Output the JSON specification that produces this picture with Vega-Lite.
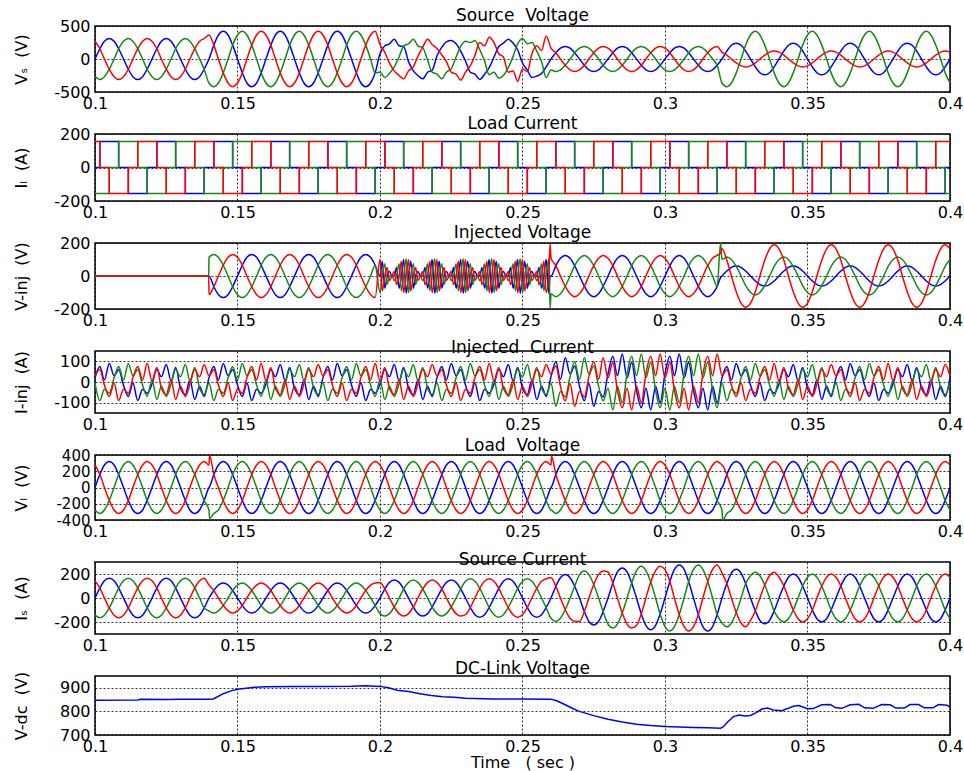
{
"$schema": "https://vega.github.io/schema/vega-lite/v6.json",
"padding": {"left": 12, "top": 6, "right": 10, "bottom": 0},
"spacing": 42,
"bounds": "flush",
"config": {
  "font": "DejaVu Sans",
  "locale": {"number": {"decimal": ".", "thousands": ",", "grouping": [3], "currency": ["$", ""], "minus": "-"}},
  "view": {"stroke": "#000", "strokeWidth": 1.5},
  "axis": {"labelFont": "DejaVu Sans", "labelFontSize": 16, "labelColor": "#000", "titleFont": "DejaVu Sans", "titleFontSize": 16, "titleFontWeight": "normal", "titleColor": "#000", "grid": true, "gridColor": "#000", "gridDash": [2, 2], "gridOpacity": 1, "gridWidth": 0.8, "domain": false, "ticks": false, "labelPadding": 5, "labelFlush": false, "labelOverlap": false, "labelBound": false},
  "axisX": {"format": "~g", "labelPadding": 3},
  "axisY": {"titleX": -66},
  "title": {"font": "DejaVu Sans", "fontSize": 17, "fontWeight": "normal", "color": "#000", "offset": -7, "anchor": "middle"},
  "line": {"strokeWidth": 1.5, "clip": true}
},
"datasets": {
"vs": [
{"t":0.1,"b":0,"g":-268,"r":268},{"t":0.1017,"b":155,"g":-310,"r":155},{"t":0.1033,"b":268,"g":-268,"r":0},{"t":0.105,"b":310,"g":-155,"r":-155},{"t":0.1067,"b":268,"g":0,"r":-268},{"t":0.1083,"b":155,"g":155,"r":-310},{"t":0.11,"b":0,"g":268,"r":-268},{"t":0.1117,"b":-155,"g":310,"r":-155},{"t":0.1133,"b":-268,"g":268,"r":0},{"t":0.115,"b":-310,"g":155,"r":155},{"t":0.1167,"b":-268,"g":0,"r":268},{"t":0.1183,"b":-155,"g":-155,"r":310},
{"t":0.12,"b":0,"g":-268,"r":268},{"t":0.1217,"b":155,"g":-310,"r":155},{"t":0.1233,"b":268,"g":-268,"r":0},{"t":0.125,"b":310,"g":-155,"r":-155},{"t":0.1267,"b":268,"g":0,"r":-268},{"t":0.1283,"b":155,"g":155,"r":-310},{"t":0.13,"b":0,"g":268,"r":-268},{"t":0.1317,"b":-155,"g":310,"r":-155},{"t":0.1333,"b":-268,"g":268,"r":0},{"t":0.135,"b":-310,"g":155,"r":155},{"t":0.1367,"b":-268,"g":0,"r":268},{"t":0.1383,"b":-155,"g":-155,"r":310},
{"t":0.14,"b":0,"g":-364,"r":364},{"t":0.1417,"b":210,"g":-420,"r":210},{"t":0.1433,"b":364,"g":-364,"r":0},{"t":0.145,"b":420,"g":-210,"r":-210},{"t":0.1467,"b":364,"g":0,"r":-364},{"t":0.1483,"b":210,"g":210,"r":-420},{"t":0.15,"b":0,"g":364,"r":-364},{"t":0.1517,"b":-210,"g":420,"r":-210},{"t":0.1533,"b":-364,"g":364,"r":0},{"t":0.155,"b":-420,"g":210,"r":210},{"t":0.1567,"b":-364,"g":0,"r":364},{"t":0.1583,"b":-210,"g":-210,"r":420},
{"t":0.16,"b":0,"g":-364,"r":364},{"t":0.1617,"b":210,"g":-420,"r":210},{"t":0.1633,"b":364,"g":-364,"r":0},{"t":0.165,"b":420,"g":-210,"r":-210},{"t":0.1667,"b":364,"g":0,"r":-364},{"t":0.1683,"b":210,"g":210,"r":-420},{"t":0.17,"b":0,"g":364,"r":-364},{"t":0.1717,"b":-210,"g":420,"r":-210},{"t":0.1733,"b":-364,"g":364,"r":0},{"t":0.175,"b":-420,"g":210,"r":210},{"t":0.1767,"b":-364,"g":0,"r":364},{"t":0.1783,"b":-210,"g":-210,"r":420},
{"t":0.18,"b":0,"g":-364,"r":364},{"t":0.1817,"b":210,"g":-420,"r":210},{"t":0.1833,"b":364,"g":-364,"r":0},{"t":0.185,"b":420,"g":-210,"r":-210},{"t":0.1867,"b":364,"g":0,"r":-364},{"t":0.1883,"b":210,"g":210,"r":-420},{"t":0.19,"b":0,"g":364,"r":-364},{"t":0.1917,"b":-210,"g":420,"r":-210},{"t":0.1933,"b":-364,"g":364,"r":0},{"t":0.195,"b":-420,"g":210,"r":210},{"t":0.1967,"b":-364,"g":0,"r":364},{"t":0.1983,"b":-210,"g":-210,"r":420},
{"t":0.2,"b":80,"g":-200,"r":220},{"t":0.2017,"b":200,"g":-280,"r":100},{"t":0.2033,"b":230,"g":-220,"r":-60},{"t":0.205,"b":300,"g":-120,"r":-180},{"t":0.2067,"b":200,"g":30,"r":-250},{"t":0.2083,"b":190,"g":200,"r":-300},{"t":0.21,"b":-40,"g":230,"r":-180},{"t":0.2117,"b":-180,"g":300,"r":-120},{"t":0.2133,"b":-250,"g":200,"r":40},{"t":0.215,"b":-300,"g":170,"r":180},{"t":0.2167,"b":-200,"g":-20,"r":300},{"t":0.2183,"b":-170,"g":-200,"r":220},
{"t":0.22,"b":50,"g":-230,"r":160},{"t":0.2217,"b":180,"g":-300,"r":60},{"t":0.2233,"b":260,"g":-200,"r":-40},{"t":0.225,"b":280,"g":-150,"r":-200},{"t":0.2267,"b":230,"g":30,"r":-230},{"t":0.2283,"b":120,"g":190,"r":-320},{"t":0.23,"b":-30,"g":270,"r":-200},{"t":0.2317,"b":-200,"g":250,"r":-100},{"t":0.2333,"b":-230,"g":280,"r":50},{"t":0.235,"b":-310,"g":140,"r":250},{"t":0.2367,"b":-230,"g":-30,"r":200},{"t":0.2383,"b":-130,"g":-240,"r":330},
{"t":0.24,"b":30,"g":-200,"r":250},{"t":0.2417,"b":190,"g":-290,"r":80},{"t":0.2433,"b":240,"g":-250,"r":30},{"t":0.245,"b":300,"g":-130,"r":-200},{"t":0.2467,"b":240,"g":40,"r":-180},{"t":0.2483,"b":140,"g":230,"r":-340},{"t":0.25,"b":-60,"g":310,"r":-150},{"t":0.2517,"b":-170,"g":230,"r":-190},{"t":0.2533,"b":-280,"g":250,"r":80},{"t":0.255,"b":-260,"g":120,"r":200},{"t":0.2567,"b":-220,"g":-40,"r":130},{"t":0.2583,"b":-120,"g":-280,"r":350},
{"t":0.26,"b":0,"g":-165,"r":165},{"t":0.2617,"b":95,"g":-190,"r":95},{"t":0.2633,"b":165,"g":-165,"r":0},{"t":0.265,"b":190,"g":-95,"r":-95},{"t":0.2667,"b":165,"g":0,"r":-165},{"t":0.2683,"b":95,"g":95,"r":-190},{"t":0.27,"b":0,"g":165,"r":-165},{"t":0.2717,"b":-95,"g":190,"r":-95},{"t":0.2733,"b":-165,"g":165,"r":0},{"t":0.275,"b":-190,"g":95,"r":95},{"t":0.2767,"b":-165,"g":0,"r":165},{"t":0.2783,"b":-95,"g":-95,"r":190},
{"t":0.28,"b":0,"g":-165,"r":165},{"t":0.2817,"b":95,"g":-190,"r":95},{"t":0.2833,"b":165,"g":-165,"r":0},{"t":0.285,"b":190,"g":-95,"r":-95},{"t":0.2867,"b":165,"g":0,"r":-165},{"t":0.2883,"b":95,"g":95,"r":-190},{"t":0.29,"b":0,"g":165,"r":-165},{"t":0.2917,"b":-95,"g":190,"r":-95},{"t":0.2933,"b":-165,"g":165,"r":0},{"t":0.295,"b":-190,"g":95,"r":95},{"t":0.2967,"b":-165,"g":0,"r":165},{"t":0.2983,"b":-95,"g":-95,"r":190},
{"t":0.3,"b":0,"g":-165,"r":165},{"t":0.3017,"b":95,"g":-190,"r":95},{"t":0.3033,"b":165,"g":-165,"r":0},{"t":0.305,"b":190,"g":-95,"r":-95},{"t":0.3067,"b":165,"g":0,"r":-165},{"t":0.3083,"b":95,"g":95,"r":-190},{"t":0.31,"b":0,"g":165,"r":-165},{"t":0.3117,"b":-95,"g":190,"r":-95},{"t":0.3133,"b":-165,"g":165,"r":0},{"t":0.315,"b":-190,"g":95,"r":95},{"t":0.3167,"b":-165,"g":0,"r":165},{"t":0.3183,"b":-95,"g":-95,"r":190},
{"t":0.32,"b":0,"g":-364,"r":104},{"t":0.3217,"b":120,"g":-420,"r":60},{"t":0.3233,"b":208,"g":-364,"r":0},{"t":0.325,"b":240,"g":-210,"r":-60},{"t":0.3267,"b":208,"g":0,"r":-104},{"t":0.3283,"b":120,"g":210,"r":-120},{"t":0.33,"b":0,"g":364,"r":-104},{"t":0.3317,"b":-120,"g":420,"r":-60},{"t":0.3333,"b":-208,"g":364,"r":0},{"t":0.335,"b":-240,"g":210,"r":60},{"t":0.3367,"b":-208,"g":0,"r":104},{"t":0.3383,"b":-120,"g":-210,"r":120},
{"t":0.34,"b":0,"g":-364,"r":104},{"t":0.3417,"b":120,"g":-420,"r":60},{"t":0.3433,"b":208,"g":-364,"r":0},{"t":0.345,"b":240,"g":-210,"r":-60},{"t":0.3467,"b":208,"g":0,"r":-104},{"t":0.3483,"b":120,"g":210,"r":-120},{"t":0.35,"b":0,"g":364,"r":-104},{"t":0.3517,"b":-120,"g":420,"r":-60},{"t":0.3533,"b":-208,"g":364,"r":0},{"t":0.355,"b":-240,"g":210,"r":60},{"t":0.3567,"b":-208,"g":0,"r":104},{"t":0.3583,"b":-120,"g":-210,"r":120},
{"t":0.36,"b":0,"g":-364,"r":104},{"t":0.3617,"b":120,"g":-420,"r":60},{"t":0.3633,"b":208,"g":-364,"r":0},{"t":0.365,"b":240,"g":-210,"r":-60},{"t":0.3667,"b":208,"g":0,"r":-104},{"t":0.3683,"b":120,"g":210,"r":-120},{"t":0.37,"b":0,"g":364,"r":-104},{"t":0.3717,"b":-120,"g":420,"r":-60},{"t":0.3733,"b":-208,"g":364,"r":0},{"t":0.375,"b":-240,"g":210,"r":60},{"t":0.3767,"b":-208,"g":0,"r":104},{"t":0.3783,"b":-120,"g":-210,"r":120},
{"t":0.38,"b":0,"g":-364,"r":104},{"t":0.3817,"b":120,"g":-420,"r":60},{"t":0.3833,"b":208,"g":-364,"r":0},{"t":0.385,"b":240,"g":-210,"r":-60},{"t":0.3867,"b":208,"g":0,"r":-104},{"t":0.3883,"b":120,"g":210,"r":-120},{"t":0.39,"b":0,"g":364,"r":-104},{"t":0.3917,"b":-120,"g":420,"r":-60},{"t":0.3933,"b":-208,"g":364,"r":0},{"t":0.395,"b":-240,"g":210,"r":60},{"t":0.3967,"b":-208,"g":0,"r":104},{"t":0.3983,"b":-120,"g":-210,"r":120},
{"t":0.4,"b":0,"g":-364,"r":104}
],
"il": [
{"t":0.1,"b":0,"g":-155,"r":155},
{"t":0.1017,"b":155,"g":-155,"r":0},{"t":0.105,"b":155,"g":0,"r":-155},{"t":0.1083,"b":0,"g":155,"r":-155},{"t":0.1117,"b":-155,"g":155,"r":0},{"t":0.115,"b":-155,"g":0,"r":155},{"t":0.1183,"b":0,"g":-155,"r":155},
{"t":0.1217,"b":155,"g":-155,"r":0},{"t":0.125,"b":155,"g":0,"r":-155},{"t":0.1283,"b":0,"g":155,"r":-155},{"t":0.1317,"b":-155,"g":155,"r":0},{"t":0.135,"b":-155,"g":0,"r":155},{"t":0.1383,"b":0,"g":-155,"r":155},
{"t":0.1417,"b":155,"g":-155,"r":0},{"t":0.145,"b":155,"g":0,"r":-155},{"t":0.1483,"b":0,"g":155,"r":-155},{"t":0.1517,"b":-155,"g":155,"r":0},{"t":0.155,"b":-155,"g":0,"r":155},{"t":0.1583,"b":0,"g":-155,"r":155},
{"t":0.1617,"b":155,"g":-155,"r":0},{"t":0.165,"b":155,"g":0,"r":-155},{"t":0.1683,"b":0,"g":155,"r":-155},{"t":0.1717,"b":-155,"g":155,"r":0},{"t":0.175,"b":-155,"g":0,"r":155},{"t":0.1783,"b":0,"g":-155,"r":155},
{"t":0.1817,"b":155,"g":-155,"r":0},{"t":0.185,"b":155,"g":0,"r":-155},{"t":0.1883,"b":0,"g":155,"r":-155},{"t":0.1917,"b":-155,"g":155,"r":0},{"t":0.195,"b":-155,"g":0,"r":155},{"t":0.1983,"b":0,"g":-155,"r":155},
{"t":0.2017,"b":155,"g":-155,"r":0},{"t":0.205,"b":155,"g":0,"r":-155},{"t":0.2083,"b":0,"g":155,"r":-155},{"t":0.2117,"b":-155,"g":155,"r":0},{"t":0.215,"b":-155,"g":0,"r":155},{"t":0.2183,"b":0,"g":-155,"r":155},
{"t":0.2217,"b":155,"g":-155,"r":0},{"t":0.225,"b":155,"g":0,"r":-155},{"t":0.2283,"b":0,"g":155,"r":-155},{"t":0.2317,"b":-155,"g":155,"r":0},{"t":0.235,"b":-155,"g":0,"r":155},{"t":0.2383,"b":0,"g":-155,"r":155},
{"t":0.2417,"b":155,"g":-155,"r":0},{"t":0.245,"b":155,"g":0,"r":-155},{"t":0.2483,"b":0,"g":155,"r":-155},{"t":0.2517,"b":-155,"g":155,"r":0},{"t":0.255,"b":-155,"g":0,"r":155},{"t":0.2583,"b":0,"g":-155,"r":155},
{"t":0.2617,"b":155,"g":-155,"r":0},{"t":0.265,"b":155,"g":0,"r":-155},{"t":0.2683,"b":0,"g":155,"r":-155},{"t":0.2717,"b":-155,"g":155,"r":0},{"t":0.275,"b":-155,"g":0,"r":155},{"t":0.2783,"b":0,"g":-155,"r":155},
{"t":0.2817,"b":155,"g":-155,"r":0},{"t":0.285,"b":155,"g":0,"r":-155},{"t":0.2883,"b":0,"g":155,"r":-155},{"t":0.2917,"b":-155,"g":155,"r":0},{"t":0.295,"b":-155,"g":0,"r":155},{"t":0.2983,"b":0,"g":-155,"r":155},
{"t":0.3017,"b":155,"g":-155,"r":0},{"t":0.305,"b":155,"g":0,"r":-155},{"t":0.3083,"b":0,"g":155,"r":-155},{"t":0.3117,"b":-155,"g":155,"r":0},{"t":0.315,"b":-155,"g":0,"r":155},{"t":0.3183,"b":0,"g":-155,"r":155},
{"t":0.3217,"b":155,"g":-155,"r":0},{"t":0.325,"b":155,"g":0,"r":-155},{"t":0.3283,"b":0,"g":155,"r":-155},{"t":0.3317,"b":-155,"g":155,"r":0},{"t":0.335,"b":-155,"g":0,"r":155},{"t":0.3383,"b":0,"g":-155,"r":155},
{"t":0.3417,"b":155,"g":-155,"r":0},{"t":0.345,"b":155,"g":0,"r":-155},{"t":0.3483,"b":0,"g":155,"r":-155},{"t":0.3517,"b":-155,"g":155,"r":0},{"t":0.355,"b":-155,"g":0,"r":155},{"t":0.3583,"b":0,"g":-155,"r":155},
{"t":0.3617,"b":155,"g":-155,"r":0},{"t":0.365,"b":155,"g":0,"r":-155},{"t":0.3683,"b":0,"g":155,"r":-155},{"t":0.3717,"b":-155,"g":155,"r":0},{"t":0.375,"b":-155,"g":0,"r":155},{"t":0.3783,"b":0,"g":-155,"r":155},
{"t":0.3817,"b":155,"g":-155,"r":0},{"t":0.385,"b":155,"g":0,"r":-155},{"t":0.3883,"b":0,"g":155,"r":-155},{"t":0.3917,"b":-155,"g":155,"r":0},{"t":0.395,"b":-155,"g":0,"r":155},{"t":0.3983,"b":0,"g":-155,"r":155},
{"t":0.4,"b":0,"g":-155,"r":155}
],
"vi": [
{"t":0.1,"b":0,"g":0,"r":0},{"t":0.1399,"b":0,"g":0,"r":0},
{"t":0.14,"b":0,"g":113,"r":-113},{"t":0.1417,"b":-65,"g":130,"r":-65},{"t":0.1433,"b":-113,"g":113,"r":0},{"t":0.145,"b":-130,"g":65,"r":65},{"t":0.1467,"b":-113,"g":0,"r":113},{"t":0.1483,"b":-65,"g":-65,"r":130},{"t":0.15,"b":0,"g":-113,"r":113},{"t":0.1517,"b":65,"g":-130,"r":65},{"t":0.1533,"b":113,"g":-113,"r":0},{"t":0.155,"b":130,"g":-65,"r":-65},{"t":0.1567,"b":113,"g":0,"r":-113},{"t":0.1583,"b":65,"g":65,"r":-130},
{"t":0.16,"b":0,"g":113,"r":-113},{"t":0.1617,"b":-65,"g":130,"r":-65},{"t":0.1633,"b":-113,"g":113,"r":0},{"t":0.165,"b":-130,"g":65,"r":65},{"t":0.1667,"b":-113,"g":0,"r":113},{"t":0.1683,"b":-65,"g":-65,"r":130},{"t":0.17,"b":0,"g":-113,"r":113},{"t":0.1717,"b":65,"g":-130,"r":65},{"t":0.1733,"b":113,"g":-113,"r":0},{"t":0.175,"b":130,"g":-65,"r":-65},{"t":0.1767,"b":113,"g":0,"r":-113},{"t":0.1783,"b":65,"g":65,"r":-130},
{"t":0.18,"b":0,"g":113,"r":-113},{"t":0.1817,"b":-65,"g":130,"r":-65},{"t":0.1833,"b":-113,"g":113,"r":0},{"t":0.185,"b":-130,"g":65,"r":65},{"t":0.1867,"b":-113,"g":0,"r":113},{"t":0.1883,"b":-65,"g":-65,"r":130},{"t":0.19,"b":0,"g":-113,"r":113},{"t":0.1917,"b":65,"g":-130,"r":65},{"t":0.1933,"b":113,"g":-113,"r":0},{"t":0.195,"b":130,"g":-65,"r":-65},{"t":0.1967,"b":113,"g":0,"r":-113},{"t":0.1983,"b":65,"g":65,"r":-130},
{"t":0.2,"b":0,"g":-100,"r":100},{"t":0.2008,"b":90,"g":0,"r":-90},{"t":0.2017,"b":-74,"g":74,"r":0},{"t":0.2025,"b":0,"g":-52,"r":52},{"t":0.2033,"b":27,"g":0,"r":-27},{"t":0.2042,"b":0,"g":0,"r":0},{"t":0.205,"b":0,"g":-27,"r":27},{"t":0.2058,"b":52,"g":0,"r":-52},{"t":0.2067,"b":-74,"g":74,"r":0},{"t":0.2075,"b":0,"g":-90,"r":90},{"t":0.2083,"b":100,"g":0,"r":-100},{"t":0.2092,"b":-104,"g":104,"r":0},
{"t":0.21,"b":0,"g":-100,"r":100},{"t":0.2108,"b":90,"g":0,"r":-90},{"t":0.2117,"b":-74,"g":74,"r":0},{"t":0.2125,"b":0,"g":-52,"r":52},{"t":0.2133,"b":27,"g":0,"r":-27},{"t":0.2142,"b":0,"g":0,"r":0},{"t":0.215,"b":0,"g":-27,"r":27},{"t":0.2158,"b":52,"g":0,"r":-52},{"t":0.2167,"b":-74,"g":74,"r":0},{"t":0.2175,"b":0,"g":-90,"r":90},{"t":0.2183,"b":100,"g":0,"r":-100},{"t":0.2192,"b":-104,"g":104,"r":0},
{"t":0.22,"b":0,"g":-100,"r":100},{"t":0.2208,"b":90,"g":0,"r":-90},{"t":0.2217,"b":-74,"g":74,"r":0},{"t":0.2225,"b":0,"g":-52,"r":52},{"t":0.2233,"b":27,"g":0,"r":-27},{"t":0.2242,"b":0,"g":0,"r":0},{"t":0.225,"b":0,"g":-27,"r":27},{"t":0.2258,"b":52,"g":0,"r":-52},{"t":0.2267,"b":-74,"g":74,"r":0},{"t":0.2275,"b":0,"g":-90,"r":90},{"t":0.2283,"b":100,"g":0,"r":-100},{"t":0.2292,"b":-104,"g":104,"r":0},
{"t":0.23,"b":0,"g":-100,"r":100},{"t":0.2308,"b":90,"g":0,"r":-90},{"t":0.2317,"b":-74,"g":74,"r":0},{"t":0.2325,"b":0,"g":-52,"r":52},{"t":0.2333,"b":27,"g":0,"r":-27},{"t":0.2342,"b":0,"g":0,"r":0},{"t":0.235,"b":0,"g":-27,"r":27},{"t":0.2358,"b":52,"g":0,"r":-52},{"t":0.2367,"b":-74,"g":74,"r":0},{"t":0.2375,"b":0,"g":-90,"r":90},{"t":0.2383,"b":100,"g":0,"r":-100},{"t":0.2392,"b":-104,"g":104,"r":0},
{"t":0.24,"b":0,"g":-100,"r":100},{"t":0.2408,"b":90,"g":0,"r":-90},{"t":0.2417,"b":-74,"g":74,"r":0},{"t":0.2425,"b":0,"g":-52,"r":52},{"t":0.2433,"b":27,"g":0,"r":-27},{"t":0.2442,"b":0,"g":0,"r":0},{"t":0.245,"b":0,"g":-27,"r":27},{"t":0.2458,"b":52,"g":0,"r":-52},{"t":0.2467,"b":-74,"g":74,"r":0},{"t":0.2475,"b":0,"g":-90,"r":90},{"t":0.2483,"b":100,"g":0,"r":-100},{"t":0.2492,"b":-104,"g":104,"r":0},
{"t":0.25,"b":0,"g":-100,"r":100},{"t":0.2508,"b":90,"g":0,"r":-90},{"t":0.2517,"b":-74,"g":74,"r":0},{"t":0.2525,"b":0,"g":-52,"r":52},{"t":0.2533,"b":27,"g":0,"r":-27},{"t":0.2542,"b":0,"g":0,"r":0},{"t":0.255,"b":0,"g":-27,"r":27},{"t":0.2558,"b":52,"g":0,"r":-52},{"t":0.2567,"b":-74,"g":74,"r":0},{"t":0.2575,"b":0,"g":-90,"r":90},{"t":0.2583,"b":100,"g":0,"r":-100},{"t":0.2592,"b":-104,"g":104,"r":0},
{"t":0.2597,"b":0,"g":-195,"r":195},
{"t":0.26,"b":0,"g":-108,"r":108},{"t":0.2617,"b":63,"g":-125,"r":63},{"t":0.2633,"b":108,"g":-108,"r":0},{"t":0.265,"b":125,"g":-63,"r":-63},{"t":0.2667,"b":108,"g":0,"r":-108},{"t":0.2683,"b":63,"g":63,"r":-125},{"t":0.27,"b":0,"g":108,"r":-108},{"t":0.2717,"b":-63,"g":125,"r":-63},{"t":0.2733,"b":-108,"g":108,"r":0},{"t":0.275,"b":-125,"g":63,"r":63},{"t":0.2767,"b":-108,"g":0,"r":108},{"t":0.2783,"b":-63,"g":-63,"r":125},
{"t":0.28,"b":0,"g":-108,"r":108},{"t":0.2817,"b":63,"g":-125,"r":63},{"t":0.2833,"b":108,"g":-108,"r":0},{"t":0.285,"b":125,"g":-63,"r":-63},{"t":0.2867,"b":108,"g":0,"r":-108},{"t":0.2883,"b":63,"g":63,"r":-125},{"t":0.29,"b":0,"g":108,"r":-108},{"t":0.2917,"b":-63,"g":125,"r":-63},{"t":0.2933,"b":-108,"g":108,"r":0},{"t":0.295,"b":-125,"g":63,"r":63},{"t":0.2967,"b":-108,"g":0,"r":108},{"t":0.2983,"b":-63,"g":-63,"r":125},
{"t":0.3,"b":0,"g":-108,"r":108},{"t":0.3017,"b":63,"g":-125,"r":63},{"t":0.3033,"b":108,"g":-108,"r":0},{"t":0.305,"b":125,"g":-63,"r":-63},{"t":0.3067,"b":108,"g":0,"r":-108},{"t":0.3083,"b":63,"g":63,"r":-125},{"t":0.31,"b":0,"g":108,"r":-108},{"t":0.3117,"b":-63,"g":125,"r":-63},{"t":0.3133,"b":-108,"g":108,"r":0},{"t":0.315,"b":-125,"g":63,"r":63},{"t":0.3167,"b":-108,"g":0,"r":108},{"t":0.3183,"b":-63,"g":-63,"r":125},
{"t":0.3195,"b":-10,"g":200,"r":140},
{"t":0.32,"b":0,"g":100,"r":165},{"t":0.3217,"b":30,"g":115,"r":95},{"t":0.3233,"b":52,"g":100,"r":0},{"t":0.325,"b":60,"g":58,"r":-95},{"t":0.3267,"b":52,"g":0,"r":-165},{"t":0.3283,"b":30,"g":-58,"r":-190},{"t":0.33,"b":0,"g":-100,"r":-165},{"t":0.3317,"b":-30,"g":-115,"r":-95},{"t":0.3333,"b":-52,"g":-100,"r":0},{"t":0.335,"b":-60,"g":-58,"r":95},{"t":0.3367,"b":-52,"g":0,"r":165},{"t":0.3383,"b":-30,"g":58,"r":190},
{"t":0.34,"b":0,"g":100,"r":165},{"t":0.3417,"b":30,"g":115,"r":95},{"t":0.3433,"b":52,"g":100,"r":0},{"t":0.345,"b":60,"g":58,"r":-95},{"t":0.3467,"b":52,"g":0,"r":-165},{"t":0.3483,"b":30,"g":-58,"r":-190},{"t":0.35,"b":0,"g":-100,"r":-165},{"t":0.3517,"b":-30,"g":-115,"r":-95},{"t":0.3533,"b":-52,"g":-100,"r":0},{"t":0.355,"b":-60,"g":-58,"r":95},{"t":0.3567,"b":-52,"g":0,"r":165},{"t":0.3583,"b":-30,"g":58,"r":190},
{"t":0.36,"b":0,"g":100,"r":165},{"t":0.3617,"b":30,"g":115,"r":95},{"t":0.3633,"b":52,"g":100,"r":0},{"t":0.365,"b":60,"g":58,"r":-95},{"t":0.3667,"b":52,"g":0,"r":-165},{"t":0.3683,"b":30,"g":-58,"r":-190},{"t":0.37,"b":0,"g":-100,"r":-165},{"t":0.3717,"b":-30,"g":-115,"r":-95},{"t":0.3733,"b":-52,"g":-100,"r":0},{"t":0.375,"b":-60,"g":-58,"r":95},{"t":0.3767,"b":-52,"g":0,"r":165},{"t":0.3783,"b":-30,"g":58,"r":190},
{"t":0.38,"b":0,"g":100,"r":165},{"t":0.3817,"b":30,"g":115,"r":95},{"t":0.3833,"b":52,"g":100,"r":0},{"t":0.385,"b":60,"g":58,"r":-95},{"t":0.3867,"b":52,"g":0,"r":-165},{"t":0.3883,"b":30,"g":-58,"r":-190},{"t":0.39,"b":0,"g":-100,"r":-165},{"t":0.3917,"b":-30,"g":-115,"r":-95},{"t":0.3933,"b":-52,"g":-100,"r":0},{"t":0.395,"b":-60,"g":-58,"r":95},{"t":0.3967,"b":-52,"g":0,"r":165},{"t":0.3983,"b":-30,"g":58,"r":190},
{"t":0.4,"b":0,"g":100,"r":165}
],
"ii": [
{"t":0.1,"b":20,"g":-5,"r":30},{"t":0.1017,"b":75,"g":-90,"r":60},{"t":0.1033,"b":10,"g":-35,"r":-15},{"t":0.105,"b":90,"g":-55,"r":-70},{"t":0.1067,"b":30,"g":20,"r":-5},{"t":0.1083,"b":60,"g":75,"r":-90},{"t":0.11,"b":-15,"g":10,"r":-35},{"t":0.1117,"b":-70,"g":90,"r":-55},{"t":0.1133,"b":-5,"g":30,"r":20},{"t":0.115,"b":-90,"g":60,"r":75},{"t":0.1167,"b":-35,"g":-15,"r":10},{"t":0.1183,"b":-55,"g":-70,"r":90},
{"t":0.12,"b":-10,"g":10,"r":5},{"t":0.1217,"b":60,"g":-85,"r":70},{"t":0.1233,"b":25,"g":-20,"r":-30},{"t":0.125,"b":85,"g":-70,"r":-60},{"t":0.1267,"b":5,"g":-10,"r":10},{"t":0.1283,"b":70,"g":60,"r":-85},{"t":0.13,"b":-30,"g":25,"r":-20},{"t":0.1317,"b":-60,"g":85,"r":-70},{"t":0.1333,"b":10,"g":5,"r":-10},{"t":0.135,"b":-85,"g":70,"r":60},{"t":0.1367,"b":-20,"g":-30,"r":25},{"t":0.1383,"b":-70,"g":-60,"r":85},
{"t":0.14,"b":20,"g":-5,"r":30},{"t":0.1417,"b":75,"g":-90,"r":60},{"t":0.1433,"b":10,"g":-35,"r":-15},{"t":0.145,"b":90,"g":-55,"r":-70},{"t":0.1467,"b":30,"g":20,"r":-5},{"t":0.1483,"b":60,"g":75,"r":-90},{"t":0.15,"b":-15,"g":10,"r":-35},{"t":0.1517,"b":-70,"g":90,"r":-55},{"t":0.1533,"b":-5,"g":30,"r":20},{"t":0.155,"b":-90,"g":60,"r":75},{"t":0.1567,"b":-35,"g":-15,"r":10},{"t":0.1583,"b":-55,"g":-70,"r":90},
{"t":0.16,"b":-10,"g":10,"r":5},{"t":0.1617,"b":60,"g":-85,"r":70},{"t":0.1633,"b":25,"g":-20,"r":-30},{"t":0.165,"b":85,"g":-70,"r":-60},{"t":0.1667,"b":5,"g":-10,"r":10},{"t":0.1683,"b":70,"g":60,"r":-85},{"t":0.17,"b":-30,"g":25,"r":-20},{"t":0.1717,"b":-60,"g":85,"r":-70},{"t":0.1733,"b":10,"g":5,"r":-10},{"t":0.175,"b":-85,"g":70,"r":60},{"t":0.1767,"b":-20,"g":-30,"r":25},{"t":0.1783,"b":-70,"g":-60,"r":85},
{"t":0.18,"b":20,"g":-5,"r":30},{"t":0.1817,"b":75,"g":-90,"r":60},{"t":0.1833,"b":10,"g":-35,"r":-15},{"t":0.185,"b":90,"g":-55,"r":-70},{"t":0.1867,"b":30,"g":20,"r":-5},{"t":0.1883,"b":60,"g":75,"r":-90},{"t":0.19,"b":-15,"g":10,"r":-35},{"t":0.1917,"b":-70,"g":90,"r":-55},{"t":0.1933,"b":-5,"g":30,"r":20},{"t":0.195,"b":-90,"g":60,"r":75},{"t":0.1967,"b":-35,"g":-15,"r":10},{"t":0.1983,"b":-55,"g":-70,"r":90},
{"t":0.2,"b":-10,"g":10,"r":5},{"t":0.2017,"b":60,"g":-85,"r":70},{"t":0.2033,"b":25,"g":-20,"r":-30},{"t":0.205,"b":85,"g":-70,"r":-60},{"t":0.2067,"b":5,"g":-10,"r":10},{"t":0.2083,"b":70,"g":60,"r":-85},{"t":0.21,"b":-30,"g":25,"r":-20},{"t":0.2117,"b":-60,"g":85,"r":-70},{"t":0.2133,"b":10,"g":5,"r":-10},{"t":0.215,"b":-85,"g":70,"r":60},{"t":0.2167,"b":-20,"g":-30,"r":25},{"t":0.2183,"b":-70,"g":-60,"r":85},
{"t":0.22,"b":20,"g":-5,"r":30},{"t":0.2217,"b":75,"g":-90,"r":60},{"t":0.2233,"b":10,"g":-35,"r":-15},{"t":0.225,"b":90,"g":-55,"r":-70},{"t":0.2267,"b":30,"g":20,"r":-5},{"t":0.2283,"b":60,"g":75,"r":-90},{"t":0.23,"b":-15,"g":10,"r":-35},{"t":0.2317,"b":-70,"g":90,"r":-55},{"t":0.2333,"b":-5,"g":30,"r":20},{"t":0.235,"b":-90,"g":60,"r":75},{"t":0.2367,"b":-35,"g":-15,"r":10},{"t":0.2383,"b":-55,"g":-70,"r":90},
{"t":0.24,"b":-10,"g":10,"r":5},{"t":0.2417,"b":60,"g":-85,"r":70},{"t":0.2433,"b":25,"g":-20,"r":-30},{"t":0.245,"b":85,"g":-70,"r":-60},{"t":0.2467,"b":5,"g":-10,"r":10},{"t":0.2483,"b":70,"g":60,"r":-85},{"t":0.25,"b":-30,"g":25,"r":-20},{"t":0.2517,"b":-60,"g":85,"r":-70},{"t":0.2533,"b":10,"g":5,"r":-10},{"t":0.255,"b":-85,"g":70,"r":60},{"t":0.2567,"b":-20,"g":-30,"r":25},{"t":0.2583,"b":-70,"g":-60,"r":85},
{"t":0.26,"b":26,"g":-7,"r":39},{"t":0.2617,"b":98,"g":-117,"r":78},{"t":0.2633,"b":13,"g":-46,"r":-20},{"t":0.265,"b":117,"g":-72,"r":-91},{"t":0.2667,"b":39,"g":26,"r":-7},{"t":0.2683,"b":78,"g":98,"r":-117},{"t":0.27,"b":-20,"g":13,"r":-46},{"t":0.2717,"b":-91,"g":117,"r":-72},{"t":0.2733,"b":-7,"g":39,"r":26},{"t":0.275,"b":-117,"g":78,"r":98},{"t":0.2767,"b":-46,"g":-20,"r":13},{"t":0.2783,"b":-72,"g":-91,"r":117},
{"t":0.28,"b":40,"g":-30,"r":20},{"t":0.2817,"b":125,"g":-135,"r":95},{"t":0.2833,"b":30,"g":-20,"r":-40},{"t":0.285,"b":135,"g":-100,"r":-125},{"t":0.2867,"b":20,"g":40,"r":-30},{"t":0.2883,"b":95,"g":125,"r":-135},{"t":0.29,"b":-40,"g":30,"r":-20},{"t":0.2917,"b":-125,"g":135,"r":-100},{"t":0.2933,"b":-30,"g":20,"r":40},{"t":0.295,"b":-135,"g":95,"r":125},{"t":0.2967,"b":-20,"g":-40,"r":30},{"t":0.2983,"b":-100,"g":-125,"r":135},
{"t":0.3,"b":40,"g":-30,"r":20},{"t":0.3017,"b":125,"g":-135,"r":95},{"t":0.3033,"b":30,"g":-20,"r":-40},{"t":0.305,"b":135,"g":-100,"r":-125},{"t":0.3067,"b":20,"g":40,"r":-30},{"t":0.3083,"b":95,"g":125,"r":-135},{"t":0.31,"b":-40,"g":30,"r":-20},{"t":0.3117,"b":-125,"g":135,"r":-100},{"t":0.3133,"b":-30,"g":20,"r":40},{"t":0.315,"b":-135,"g":95,"r":125},{"t":0.3167,"b":-20,"g":-40,"r":30},{"t":0.3183,"b":-100,"g":-125,"r":135},
{"t":0.32,"b":20,"g":-5,"r":30},{"t":0.3217,"b":75,"g":-90,"r":60},{"t":0.3233,"b":10,"g":-35,"r":-15},{"t":0.325,"b":90,"g":-55,"r":-70},{"t":0.3267,"b":30,"g":20,"r":-5},{"t":0.3283,"b":60,"g":75,"r":-90},{"t":0.33,"b":-15,"g":10,"r":-35},{"t":0.3317,"b":-70,"g":90,"r":-55},{"t":0.3333,"b":-5,"g":30,"r":20},{"t":0.335,"b":-90,"g":60,"r":75},{"t":0.3367,"b":-35,"g":-15,"r":10},{"t":0.3383,"b":-55,"g":-70,"r":90},
{"t":0.34,"b":-10,"g":10,"r":5},{"t":0.3417,"b":60,"g":-85,"r":70},{"t":0.3433,"b":25,"g":-20,"r":-30},{"t":0.345,"b":85,"g":-70,"r":-60},{"t":0.3467,"b":5,"g":-10,"r":10},{"t":0.3483,"b":70,"g":60,"r":-85},{"t":0.35,"b":-30,"g":25,"r":-20},{"t":0.3517,"b":-60,"g":85,"r":-70},{"t":0.3533,"b":10,"g":5,"r":-10},{"t":0.355,"b":-85,"g":70,"r":60},{"t":0.3567,"b":-20,"g":-30,"r":25},{"t":0.3583,"b":-70,"g":-60,"r":85},
{"t":0.36,"b":20,"g":-5,"r":30},{"t":0.3617,"b":75,"g":-90,"r":60},{"t":0.3633,"b":10,"g":-35,"r":-15},{"t":0.365,"b":90,"g":-55,"r":-70},{"t":0.3667,"b":30,"g":20,"r":-5},{"t":0.3683,"b":60,"g":75,"r":-90},{"t":0.37,"b":-15,"g":10,"r":-35},{"t":0.3717,"b":-70,"g":90,"r":-55},{"t":0.3733,"b":-5,"g":30,"r":20},{"t":0.375,"b":-90,"g":60,"r":75},{"t":0.3767,"b":-35,"g":-15,"r":10},{"t":0.3783,"b":-55,"g":-70,"r":90},
{"t":0.38,"b":-10,"g":10,"r":5},{"t":0.3817,"b":60,"g":-85,"r":70},{"t":0.3833,"b":25,"g":-20,"r":-30},{"t":0.385,"b":85,"g":-70,"r":-60},{"t":0.3867,"b":5,"g":-10,"r":10},{"t":0.3883,"b":70,"g":60,"r":-85},{"t":0.39,"b":-30,"g":25,"r":-20},{"t":0.3917,"b":-60,"g":85,"r":-70},{"t":0.3933,"b":10,"g":5,"r":-10},{"t":0.395,"b":-85,"g":70,"r":60},{"t":0.3967,"b":-20,"g":-30,"r":25},{"t":0.3983,"b":-70,"g":-60,"r":85},
{"t":0.4,"b":20,"g":-5,"r":30}
],
"vl": [
{"t":0.1,"b":0,"g":-277,"r":277},{"t":0.1017,"b":160,"g":-320,"r":160},{"t":0.1033,"b":277,"g":-277,"r":0},{"t":0.105,"b":320,"g":-160,"r":-160},{"t":0.1067,"b":277,"g":0,"r":-277},{"t":0.1083,"b":160,"g":160,"r":-320},{"t":0.11,"b":0,"g":277,"r":-277},{"t":0.1117,"b":-160,"g":320,"r":-160},{"t":0.1133,"b":-277,"g":277,"r":0},{"t":0.115,"b":-320,"g":160,"r":160},{"t":0.1167,"b":-277,"g":0,"r":277},{"t":0.1183,"b":-160,"g":-160,"r":320},
{"t":0.12,"b":0,"g":-277,"r":277},{"t":0.1217,"b":160,"g":-320,"r":160},{"t":0.1233,"b":277,"g":-277,"r":0},{"t":0.125,"b":320,"g":-160,"r":-160},{"t":0.1267,"b":277,"g":0,"r":-277},{"t":0.1283,"b":160,"g":160,"r":-320},{"t":0.13,"b":0,"g":277,"r":-277},{"t":0.1317,"b":-160,"g":320,"r":-160},{"t":0.1333,"b":-277,"g":277,"r":0},{"t":0.135,"b":-320,"g":160,"r":160},{"t":0.1367,"b":-277,"g":0,"r":277},{"t":0.1383,"b":-160,"g":-160,"r":320},
{"t":0.14,"b":0,"g":-277,"r":277},{"t":0.1402,"b":10,"g":-380,"r":395},{"t":0.1417,"b":160,"g":-320,"r":160},{"t":0.1433,"b":277,"g":-277,"r":0},{"t":0.145,"b":320,"g":-160,"r":-160},{"t":0.1467,"b":277,"g":0,"r":-277},{"t":0.1483,"b":160,"g":160,"r":-320},{"t":0.15,"b":0,"g":277,"r":-277},{"t":0.1517,"b":-160,"g":320,"r":-160},{"t":0.1533,"b":-277,"g":277,"r":0},{"t":0.155,"b":-320,"g":160,"r":160},{"t":0.1567,"b":-277,"g":0,"r":277},{"t":0.1583,"b":-160,"g":-160,"r":320},
{"t":0.16,"b":0,"g":-277,"r":277},{"t":0.1617,"b":160,"g":-320,"r":160},{"t":0.1633,"b":277,"g":-277,"r":0},{"t":0.165,"b":320,"g":-160,"r":-160},{"t":0.1667,"b":277,"g":0,"r":-277},{"t":0.1683,"b":160,"g":160,"r":-320},{"t":0.17,"b":0,"g":277,"r":-277},{"t":0.1717,"b":-160,"g":320,"r":-160},{"t":0.1733,"b":-277,"g":277,"r":0},{"t":0.175,"b":-320,"g":160,"r":160},{"t":0.1767,"b":-277,"g":0,"r":277},{"t":0.1783,"b":-160,"g":-160,"r":320},
{"t":0.18,"b":0,"g":-277,"r":277},{"t":0.1817,"b":160,"g":-320,"r":160},{"t":0.1833,"b":277,"g":-277,"r":0},{"t":0.185,"b":320,"g":-160,"r":-160},{"t":0.1867,"b":277,"g":0,"r":-277},{"t":0.1883,"b":160,"g":160,"r":-320},{"t":0.19,"b":0,"g":277,"r":-277},{"t":0.1917,"b":-160,"g":320,"r":-160},{"t":0.1933,"b":-277,"g":277,"r":0},{"t":0.195,"b":-320,"g":160,"r":160},{"t":0.1967,"b":-277,"g":0,"r":277},{"t":0.1983,"b":-160,"g":-160,"r":320},
{"t":0.2,"b":0,"g":-277,"r":277},{"t":0.2017,"b":160,"g":-320,"r":160},{"t":0.2033,"b":277,"g":-277,"r":0},{"t":0.205,"b":320,"g":-160,"r":-160},{"t":0.2067,"b":277,"g":0,"r":-277},{"t":0.2083,"b":160,"g":160,"r":-320},{"t":0.21,"b":0,"g":277,"r":-277},{"t":0.2117,"b":-160,"g":320,"r":-160},{"t":0.2133,"b":-277,"g":277,"r":0},{"t":0.215,"b":-320,"g":160,"r":160},{"t":0.2167,"b":-277,"g":0,"r":277},{"t":0.2183,"b":-160,"g":-160,"r":320},
{"t":0.22,"b":0,"g":-277,"r":277},{"t":0.2217,"b":160,"g":-320,"r":160},{"t":0.2233,"b":277,"g":-277,"r":0},{"t":0.225,"b":320,"g":-160,"r":-160},{"t":0.2267,"b":277,"g":0,"r":-277},{"t":0.2283,"b":160,"g":160,"r":-320},{"t":0.23,"b":0,"g":277,"r":-277},{"t":0.2317,"b":-160,"g":320,"r":-160},{"t":0.2333,"b":-277,"g":277,"r":0},{"t":0.235,"b":-320,"g":160,"r":160},{"t":0.2367,"b":-277,"g":0,"r":277},{"t":0.2383,"b":-160,"g":-160,"r":320},
{"t":0.24,"b":0,"g":-277,"r":277},{"t":0.2417,"b":160,"g":-320,"r":160},{"t":0.2433,"b":277,"g":-277,"r":0},{"t":0.245,"b":320,"g":-160,"r":-160},{"t":0.2467,"b":277,"g":0,"r":-277},{"t":0.2483,"b":160,"g":160,"r":-320},{"t":0.25,"b":0,"g":277,"r":-277},{"t":0.2517,"b":-160,"g":320,"r":-160},{"t":0.2533,"b":-277,"g":277,"r":0},{"t":0.255,"b":-320,"g":160,"r":160},{"t":0.2567,"b":-277,"g":0,"r":277},{"t":0.2583,"b":-160,"g":-160,"r":320},
{"t":0.26,"b":0,"g":-277,"r":277},{"t":0.2602,"b":10,"g":-280,"r":385},{"t":0.2617,"b":160,"g":-320,"r":160},{"t":0.2633,"b":277,"g":-277,"r":0},{"t":0.265,"b":320,"g":-160,"r":-160},{"t":0.2667,"b":277,"g":0,"r":-277},{"t":0.2683,"b":160,"g":160,"r":-320},{"t":0.27,"b":0,"g":277,"r":-277},{"t":0.2717,"b":-160,"g":320,"r":-160},{"t":0.2733,"b":-277,"g":277,"r":0},{"t":0.275,"b":-320,"g":160,"r":160},{"t":0.2767,"b":-277,"g":0,"r":277},{"t":0.2783,"b":-160,"g":-160,"r":320},
{"t":0.28,"b":0,"g":-277,"r":277},{"t":0.2817,"b":160,"g":-320,"r":160},{"t":0.2833,"b":277,"g":-277,"r":0},{"t":0.285,"b":320,"g":-160,"r":-160},{"t":0.2867,"b":277,"g":0,"r":-277},{"t":0.2883,"b":160,"g":160,"r":-320},{"t":0.29,"b":0,"g":277,"r":-277},{"t":0.2917,"b":-160,"g":320,"r":-160},{"t":0.2933,"b":-277,"g":277,"r":0},{"t":0.295,"b":-320,"g":160,"r":160},{"t":0.2967,"b":-277,"g":0,"r":277},{"t":0.2983,"b":-160,"g":-160,"r":320},
{"t":0.3,"b":0,"g":-277,"r":277},{"t":0.3017,"b":160,"g":-320,"r":160},{"t":0.3033,"b":277,"g":-277,"r":0},{"t":0.305,"b":320,"g":-160,"r":-160},{"t":0.3067,"b":277,"g":0,"r":-277},{"t":0.3083,"b":160,"g":160,"r":-320},{"t":0.31,"b":0,"g":277,"r":-277},{"t":0.3117,"b":-160,"g":320,"r":-160},{"t":0.3133,"b":-277,"g":277,"r":0},{"t":0.315,"b":-320,"g":160,"r":160},{"t":0.3167,"b":-277,"g":0,"r":277},{"t":0.3183,"b":-160,"g":-160,"r":320},
{"t":0.32,"b":0,"g":-277,"r":277},{"t":0.3202,"b":10,"g":-400,"r":270},{"t":0.3217,"b":160,"g":-320,"r":160},{"t":0.3233,"b":277,"g":-277,"r":0},{"t":0.325,"b":320,"g":-160,"r":-160},{"t":0.3267,"b":277,"g":0,"r":-277},{"t":0.3283,"b":160,"g":160,"r":-320},{"t":0.33,"b":0,"g":277,"r":-277},{"t":0.3317,"b":-160,"g":320,"r":-160},{"t":0.3333,"b":-277,"g":277,"r":0},{"t":0.335,"b":-320,"g":160,"r":160},{"t":0.3367,"b":-277,"g":0,"r":277},{"t":0.3383,"b":-160,"g":-160,"r":320},
{"t":0.34,"b":0,"g":-277,"r":277},{"t":0.3417,"b":160,"g":-320,"r":160},{"t":0.3433,"b":277,"g":-277,"r":0},{"t":0.345,"b":320,"g":-160,"r":-160},{"t":0.3467,"b":277,"g":0,"r":-277},{"t":0.3483,"b":160,"g":160,"r":-320},{"t":0.35,"b":0,"g":277,"r":-277},{"t":0.3517,"b":-160,"g":320,"r":-160},{"t":0.3533,"b":-277,"g":277,"r":0},{"t":0.355,"b":-320,"g":160,"r":160},{"t":0.3567,"b":-277,"g":0,"r":277},{"t":0.3583,"b":-160,"g":-160,"r":320},
{"t":0.36,"b":0,"g":-277,"r":277},{"t":0.3617,"b":160,"g":-320,"r":160},{"t":0.3633,"b":277,"g":-277,"r":0},{"t":0.365,"b":320,"g":-160,"r":-160},{"t":0.3667,"b":277,"g":0,"r":-277},{"t":0.3683,"b":160,"g":160,"r":-320},{"t":0.37,"b":0,"g":277,"r":-277},{"t":0.3717,"b":-160,"g":320,"r":-160},{"t":0.3733,"b":-277,"g":277,"r":0},{"t":0.375,"b":-320,"g":160,"r":160},{"t":0.3767,"b":-277,"g":0,"r":277},{"t":0.3783,"b":-160,"g":-160,"r":320},
{"t":0.38,"b":0,"g":-277,"r":277},{"t":0.3817,"b":160,"g":-320,"r":160},{"t":0.3833,"b":277,"g":-277,"r":0},{"t":0.385,"b":320,"g":-160,"r":-160},{"t":0.3867,"b":277,"g":0,"r":-277},{"t":0.3883,"b":160,"g":160,"r":-320},{"t":0.39,"b":0,"g":277,"r":-277},{"t":0.3917,"b":-160,"g":320,"r":-160},{"t":0.3933,"b":-277,"g":277,"r":0},{"t":0.395,"b":-320,"g":160,"r":160},{"t":0.3967,"b":-277,"g":0,"r":277},{"t":0.3983,"b":-160,"g":-160,"r":320},
{"t":0.4,"b":0,"g":-277,"r":277}
],
"is": [
{"t":0.1,"b":0,"g":-143,"r":143},{"t":0.1017,"b":83,"g":-165,"r":83},{"t":0.1033,"b":143,"g":-143,"r":0},{"t":0.105,"b":165,"g":-83,"r":-83},{"t":0.1067,"b":143,"g":0,"r":-143},{"t":0.1083,"b":83,"g":83,"r":-165},{"t":0.11,"b":0,"g":143,"r":-143},{"t":0.1117,"b":-83,"g":165,"r":-83},{"t":0.1133,"b":-143,"g":143,"r":0},{"t":0.115,"b":-165,"g":83,"r":83},{"t":0.1167,"b":-143,"g":0,"r":143},{"t":0.1183,"b":-83,"g":-83,"r":165},
{"t":0.12,"b":0,"g":-143,"r":143},{"t":0.1217,"b":83,"g":-165,"r":83},{"t":0.1233,"b":143,"g":-143,"r":0},{"t":0.125,"b":165,"g":-83,"r":-83},{"t":0.1267,"b":143,"g":0,"r":-143},{"t":0.1283,"b":83,"g":83,"r":-165},{"t":0.13,"b":0,"g":143,"r":-143},{"t":0.1317,"b":-83,"g":165,"r":-83},{"t":0.1333,"b":-143,"g":143,"r":0},{"t":0.135,"b":-165,"g":83,"r":83},{"t":0.1367,"b":-143,"g":0,"r":143},{"t":0.1383,"b":-83,"g":-83,"r":165},
{"t":0.14,"b":0,"g":-108,"r":108},{"t":0.1417,"b":63,"g":-125,"r":63},{"t":0.1433,"b":108,"g":-108,"r":0},{"t":0.145,"b":125,"g":-63,"r":-63},{"t":0.1467,"b":108,"g":0,"r":-108},{"t":0.1483,"b":63,"g":63,"r":-125},{"t":0.15,"b":0,"g":108,"r":-108},{"t":0.1517,"b":-63,"g":125,"r":-63},{"t":0.1533,"b":-108,"g":108,"r":0},{"t":0.155,"b":-125,"g":63,"r":63},{"t":0.1567,"b":-108,"g":0,"r":108},{"t":0.1583,"b":-63,"g":-63,"r":125},
{"t":0.16,"b":0,"g":-108,"r":108},{"t":0.1617,"b":63,"g":-125,"r":63},{"t":0.1633,"b":108,"g":-108,"r":0},{"t":0.165,"b":125,"g":-63,"r":-63},{"t":0.1667,"b":108,"g":0,"r":-108},{"t":0.1683,"b":63,"g":63,"r":-125},{"t":0.17,"b":0,"g":108,"r":-108},{"t":0.1717,"b":-63,"g":125,"r":-63},{"t":0.1733,"b":-108,"g":108,"r":0},{"t":0.175,"b":-125,"g":63,"r":63},{"t":0.1767,"b":-108,"g":0,"r":108},{"t":0.1783,"b":-63,"g":-63,"r":125},
{"t":0.18,"b":0,"g":-108,"r":108},{"t":0.1817,"b":63,"g":-125,"r":63},{"t":0.1833,"b":108,"g":-108,"r":0},{"t":0.185,"b":125,"g":-63,"r":-63},{"t":0.1867,"b":108,"g":0,"r":-108},{"t":0.1883,"b":63,"g":63,"r":-125},{"t":0.19,"b":0,"g":108,"r":-108},{"t":0.1917,"b":-63,"g":125,"r":-63},{"t":0.1933,"b":-108,"g":108,"r":0},{"t":0.195,"b":-125,"g":63,"r":63},{"t":0.1967,"b":-108,"g":0,"r":108},{"t":0.1983,"b":-63,"g":-63,"r":125},
{"t":0.2,"b":0,"g":-130,"r":130},{"t":0.2017,"b":75,"g":-150,"r":75},{"t":0.2033,"b":130,"g":-130,"r":0},{"t":0.205,"b":150,"g":-75,"r":-75},{"t":0.2067,"b":130,"g":0,"r":-130},{"t":0.2083,"b":75,"g":75,"r":-150},{"t":0.21,"b":0,"g":130,"r":-130},{"t":0.2117,"b":-75,"g":150,"r":-75},{"t":0.2133,"b":-130,"g":130,"r":0},{"t":0.215,"b":-150,"g":75,"r":75},{"t":0.2167,"b":-130,"g":0,"r":130},{"t":0.2183,"b":-75,"g":-75,"r":150},
{"t":0.22,"b":0,"g":-130,"r":130},{"t":0.2217,"b":75,"g":-150,"r":75},{"t":0.2233,"b":130,"g":-130,"r":0},{"t":0.225,"b":150,"g":-75,"r":-75},{"t":0.2267,"b":130,"g":0,"r":-130},{"t":0.2283,"b":75,"g":75,"r":-150},{"t":0.23,"b":0,"g":139,"r":-139},{"t":0.2317,"b":-80,"g":160,"r":-80},{"t":0.2333,"b":-139,"g":139,"r":0},{"t":0.235,"b":-160,"g":80,"r":80},{"t":0.2367,"b":-139,"g":0,"r":139},{"t":0.2383,"b":-80,"g":-80,"r":160},
{"t":0.24,"b":0,"g":-139,"r":139},{"t":0.2417,"b":80,"g":-160,"r":80},{"t":0.2433,"b":139,"g":-139,"r":0},{"t":0.245,"b":160,"g":-80,"r":-80},{"t":0.2467,"b":139,"g":0,"r":-139},{"t":0.2483,"b":80,"g":80,"r":-160},{"t":0.25,"b":0,"g":139,"r":-139},{"t":0.2517,"b":-80,"g":160,"r":-80},{"t":0.2533,"b":-139,"g":139,"r":0},{"t":0.255,"b":-160,"g":80,"r":80},{"t":0.2567,"b":-139,"g":0,"r":139},{"t":0.2583,"b":-80,"g":-80,"r":160},
{"t":0.26,"b":0,"g":-169,"r":169},{"t":0.2617,"b":98,"g":-195,"r":98},{"t":0.2633,"b":169,"g":-169,"r":0},{"t":0.265,"b":195,"g":-98,"r":-98},{"t":0.2667,"b":169,"g":0,"r":-169},{"t":0.2683,"b":98,"g":98,"r":-195},{"t":0.27,"b":0,"g":195,"r":-195},{"t":0.2717,"b":-113,"g":225,"r":-113},{"t":0.2733,"b":-195,"g":195,"r":0},{"t":0.275,"b":-225,"g":113,"r":113},{"t":0.2767,"b":-195,"g":0,"r":195},{"t":0.2783,"b":-113,"g":-113,"r":225},
{"t":0.28,"b":0,"g":-217,"r":217},{"t":0.2817,"b":125,"g":-250,"r":125},{"t":0.2833,"b":217,"g":-217,"r":0},{"t":0.285,"b":250,"g":-125,"r":-125},{"t":0.2867,"b":217,"g":0,"r":-217},{"t":0.2883,"b":125,"g":125,"r":-250},{"t":0.29,"b":0,"g":229,"r":-229},{"t":0.2917,"b":-133,"g":265,"r":-133},{"t":0.2933,"b":-229,"g":229,"r":0},{"t":0.295,"b":-265,"g":133,"r":133},{"t":0.2967,"b":-229,"g":0,"r":229},{"t":0.2983,"b":-133,"g":-133,"r":265},
{"t":0.3,"b":0,"g":-238,"r":238},{"t":0.3017,"b":138,"g":-275,"r":138},{"t":0.3033,"b":238,"g":-238,"r":0},{"t":0.305,"b":275,"g":-138,"r":-138},{"t":0.3067,"b":238,"g":0,"r":-238},{"t":0.3083,"b":138,"g":138,"r":-275},{"t":0.31,"b":0,"g":238,"r":-238},{"t":0.3117,"b":-138,"g":275,"r":-138},{"t":0.3133,"b":-238,"g":238,"r":0},{"t":0.315,"b":-275,"g":138,"r":138},{"t":0.3167,"b":-238,"g":0,"r":238},{"t":0.3183,"b":-138,"g":-138,"r":275},
{"t":0.32,"b":0,"g":-208,"r":208},{"t":0.3217,"b":120,"g":-240,"r":120},{"t":0.3233,"b":208,"g":-208,"r":0},{"t":0.325,"b":240,"g":-120,"r":-120},{"t":0.3267,"b":208,"g":0,"r":-208},{"t":0.3283,"b":120,"g":120,"r":-240},{"t":0.33,"b":0,"g":186,"r":-186},{"t":0.3317,"b":-108,"g":215,"r":-108},{"t":0.3333,"b":-186,"g":186,"r":0},{"t":0.335,"b":-215,"g":108,"r":108},{"t":0.3367,"b":-186,"g":0,"r":186},{"t":0.3383,"b":-108,"g":-108,"r":215},
{"t":0.34,"b":0,"g":-173,"r":173},{"t":0.3417,"b":100,"g":-200,"r":100},{"t":0.3433,"b":173,"g":-173,"r":0},{"t":0.345,"b":200,"g":-100,"r":-100},{"t":0.3467,"b":173,"g":0,"r":-173},{"t":0.3483,"b":100,"g":100,"r":-200},{"t":0.35,"b":0,"g":173,"r":-173},{"t":0.3517,"b":-100,"g":200,"r":-100},{"t":0.3533,"b":-173,"g":173,"r":0},{"t":0.355,"b":-200,"g":100,"r":100},{"t":0.3567,"b":-173,"g":0,"r":173},{"t":0.3583,"b":-100,"g":-100,"r":200},
{"t":0.36,"b":0,"g":-173,"r":173},{"t":0.3617,"b":100,"g":-200,"r":100},{"t":0.3633,"b":173,"g":-173,"r":0},{"t":0.365,"b":200,"g":-100,"r":-100},{"t":0.3667,"b":173,"g":0,"r":-173},{"t":0.3683,"b":100,"g":100,"r":-200},{"t":0.37,"b":0,"g":173,"r":-173},{"t":0.3717,"b":-100,"g":200,"r":-100},{"t":0.3733,"b":-173,"g":173,"r":0},{"t":0.375,"b":-200,"g":100,"r":100},{"t":0.3767,"b":-173,"g":0,"r":173},{"t":0.3783,"b":-100,"g":-100,"r":200},
{"t":0.38,"b":0,"g":-173,"r":173},{"t":0.3817,"b":100,"g":-200,"r":100},{"t":0.3833,"b":173,"g":-173,"r":0},{"t":0.385,"b":200,"g":-100,"r":-100},{"t":0.3867,"b":173,"g":0,"r":-173},{"t":0.3883,"b":100,"g":100,"r":-200},{"t":0.39,"b":0,"g":173,"r":-173},{"t":0.3917,"b":-100,"g":200,"r":-100},{"t":0.3933,"b":-173,"g":173,"r":0},{"t":0.395,"b":-200,"g":100,"r":100},{"t":0.3967,"b":-173,"g":0,"r":173},{"t":0.3983,"b":-100,"g":-100,"r":200},
{"t":0.4,"b":0,"g":-173,"r":173}
],
"dc": [
{"t":0.1,"v":847},{"t":0.115,"v":848},{"t":0.116,"v":851},{"t":0.125,"v":850},{"t":0.13,"v":851},{"t":0.14,"v":852},{"t":0.1415,"v":853},{"t":0.143,"v":862},{"t":0.145,"v":875},{"t":0.148,"v":888},{"t":0.15,"v":894},{"t":0.153,"v":898},{"t":0.156,"v":902},{"t":0.16,"v":904},{"t":0.17,"v":905},{"t":0.18,"v":906},{"t":0.19,"v":907},{"t":0.195,"v":909},{"t":0.2,"v":906},{"t":0.203,"v":900},{"t":0.206,"v":890},{"t":0.21,"v":884},{"t":0.214,"v":875},{"t":0.218,"v":867},{"t":0.222,"v":862},{"t":0.226,"v":860},{"t":0.23,"v":856},{"t":0.24,"v":853},{"t":0.25,"v":853},{"t":0.26,"v":852},{"t":0.262,"v":845},{"t":0.265,"v":828},{"t":0.268,"v":810},{"t":0.27,"v":800},{"t":0.275,"v":782},{"t":0.28,"v":767},{"t":0.285,"v":755},{"t":0.29,"v":746},{"t":0.295,"v":740},{"t":0.3,"v":736},{"t":0.305,"v":734},{"t":0.31,"v":732},{"t":0.315,"v":731},{"t":0.3195,"v":729},{"t":0.3205,"v":735},{"t":0.322,"v":755},{"t":0.324,"v":778},{"t":0.326,"v":785},{"t":0.328,"v":781},{"t":0.33,"v":783},{"t":0.332,"v":795},{"t":0.334,"v":810},{"t":0.336,"v":814},{"t":0.338,"v":806},{"t":0.341,"v":803},{"t":0.343,"v":812},{"t":0.345,"v":822},{"t":0.347,"v":825},{"t":0.35,"v":811},{"t":0.352,"v":812},{"t":0.355,"v":828},{"t":0.358,"v":829},{"t":0.36,"v":815},{"t":0.362,"v":813},{"t":0.365,"v":828},{"t":0.368,"v":830},{"t":0.37,"v":815},{"t":0.373,"v":813},{"t":0.376,"v":829},{"t":0.379,"v":828},{"t":0.381,"v":814},{"t":0.384,"v":814},{"t":0.386,"v":829},{"t":0.389,"v":829},{"t":0.391,"v":815},{"t":0.394,"v":815},{"t":0.396,"v":829},{"t":0.399,"v":826},{"t":0.4,"v":818}
]
},
"vconcat": [
{
 "width": 855, "height": 66, "title": "Source\u00a0\u00a0Voltage",
 "data": {"name": "vs"},
 "transform": [{"fold": ["b", "g", "r"], "as": ["ph", "v"]}],
 "mark": {"type": "line", "interpolate": "monotone"},
 "encoding": {
  "x": {"field": "t", "type": "quantitative", "scale": {"domain": [0.1, 0.4], "nice": false, "zero": false}, "axis": {"values": [0.1, 0.15, 0.2, 0.25, 0.3, 0.35, 0.4], "title": null}},
  "y": {"field": "v", "type": "quantitative", "scale": {"domain": [-500, 500], "nice": false}, "axis": {"values": [-500, 0, 500], "title": "V\u209b\u00a0\u00a0(V)"}},
  "color": {"field": "ph", "type": "nominal", "scale": {"domain": ["b", "g", "r"], "range": ["#0000ff", "#138a13", "#ff0000"]}, "legend": null}
 }
},
{
 "width": 855, "height": 67, "title": "Load Current",
 "data": {"name": "il"},
 "transform": [{"fold": ["b", "g", "r"], "as": ["ph", "v"]}],
 "mark": {"type": "line", "interpolate": "step-after"},
 "encoding": {
  "x": {"field": "t", "type": "quantitative", "scale": {"domain": [0.1, 0.4], "nice": false, "zero": false}, "axis": {"values": [0.1, 0.15, 0.2, 0.25, 0.3, 0.35, 0.4], "title": null}},
  "y": {"field": "v", "type": "quantitative", "scale": {"domain": [-200, 200], "nice": false}, "axis": {"values": [-200, 0, 200], "title": "I\u2097\u00a0\u00a0(A)"}},
  "color": {"field": "ph", "type": "nominal", "scale": {"domain": ["b", "g", "r"], "range": ["#0000ff", "#138a13", "#ff0000"]}, "legend": null}
 }
},
{
 "width": 855, "height": 66, "title": "Injected Voltage",
 "data": {"name": "vi"},
 "transform": [{"fold": ["b", "g", "r"], "as": ["ph", "v"]}],
 "mark": {"type": "line", "interpolate": "monotone"},
 "encoding": {
  "x": {"field": "t", "type": "quantitative", "scale": {"domain": [0.1, 0.4], "nice": false, "zero": false}, "axis": {"values": [0.1, 0.15, 0.2, 0.25, 0.3, 0.35, 0.4], "title": null}},
  "y": {"field": "v", "type": "quantitative", "scale": {"domain": [-200, 200], "nice": false}, "axis": {"values": [-200, 0, 200], "title": "V-inj\u00a0\u00a0(V)"}},
  "color": {"field": "ph", "type": "nominal", "scale": {"domain": ["b", "g", "r"], "range": ["#0000ff", "#138a13", "#ff0000"]}, "legend": null}
 }
},
{
 "width": 855, "height": 62, "title": "Injected\u00a0\u00a0Current",
 "data": {"name": "ii"},
 "transform": [{"fold": ["b", "g", "r"], "as": ["ph", "v"]}],
 "mark": {"type": "line", "interpolate": "monotone"},
 "encoding": {
  "x": {"field": "t", "type": "quantitative", "scale": {"domain": [0.1, 0.4], "nice": false, "zero": false}, "axis": {"values": [0.1, 0.15, 0.2, 0.25, 0.3, 0.35, 0.4], "title": null}},
  "y": {"field": "v", "type": "quantitative", "scale": {"domain": [-150, 150], "nice": false}, "axis": {"values": [-100, 0, 100], "title": "I-inj\u00a0\u00a0(A)"}},
  "color": {"field": "ph", "type": "nominal", "scale": {"domain": ["b", "g", "r"], "range": ["#0000ff", "#138a13", "#ff0000"]}, "legend": null}
 }
},
{
 "width": 855, "height": 65, "title": "Load\u00a0\u00a0Voltage",
 "data": {"name": "vl"},
 "transform": [{"fold": ["b", "g", "r"], "as": ["ph", "v"]}],
 "mark": {"type": "line", "interpolate": "monotone"},
 "encoding": {
  "x": {"field": "t", "type": "quantitative", "scale": {"domain": [0.1, 0.4], "nice": false, "zero": false}, "axis": {"values": [0.1, 0.15, 0.2, 0.25, 0.3, 0.35, 0.4], "title": null}},
  "y": {"field": "v", "type": "quantitative", "scale": {"domain": [-400, 400], "nice": false}, "axis": {"values": [-400, -200, 0, 200, 400], "labelFontSize": 15, "title": "V\u2097\u00a0\u00a0(V)"}},
  "color": {"field": "ph", "type": "nominal", "scale": {"domain": ["b", "g", "r"], "range": ["#0000ff", "#138a13", "#ff0000"]}, "legend": null}
 }
},
{
 "width": 855, "height": 72, "title": "Source Current",
 "data": {"name": "is"},
 "transform": [{"fold": ["b", "g", "r"], "as": ["ph", "v"]}],
 "mark": {"type": "line", "interpolate": "monotone"},
 "encoding": {
  "x": {"field": "t", "type": "quantitative", "scale": {"domain": [0.1, 0.4], "nice": false, "zero": false}, "axis": {"values": [0.1, 0.15, 0.2, 0.25, 0.3, 0.35, 0.4], "title": null}},
  "y": {"field": "v", "type": "quantitative", "scale": {"domain": [-300, 300], "nice": false}, "axis": {"values": [-200, 0, 200], "title": "I\u209b\u00a0\u00a0(A)"}},
  "color": {"field": "ph", "type": "nominal", "scale": {"domain": ["b", "g", "r"], "range": ["#0000ff", "#138a13", "#ff0000"]}, "legend": null}
 }
},
{
 "width": 855, "height": 59, "title": "DC-Link Voltage",
 "data": {"name": "dc"},
 "mark": {"type": "line", "color": "#0000ff"},
 "encoding": {
  "x": {"field": "t", "type": "quantitative", "scale": {"domain": [0.1, 0.4], "nice": false, "zero": false}, "axis": {"values": [0.1, 0.15, 0.2, 0.25, 0.3, 0.35, 0.4], "title": "Time\u00a0\u00a0\u00a0(\u00a0sec\u00a0)", "titlePadding": 0}},
  "y": {"field": "v", "type": "quantitative", "scale": {"domain": [700, 950], "nice": false}, "axis": {"values": [700, 800, 900], "title": "V-dc\u00a0\u00a0(V)"}}
 }
}
]
}
